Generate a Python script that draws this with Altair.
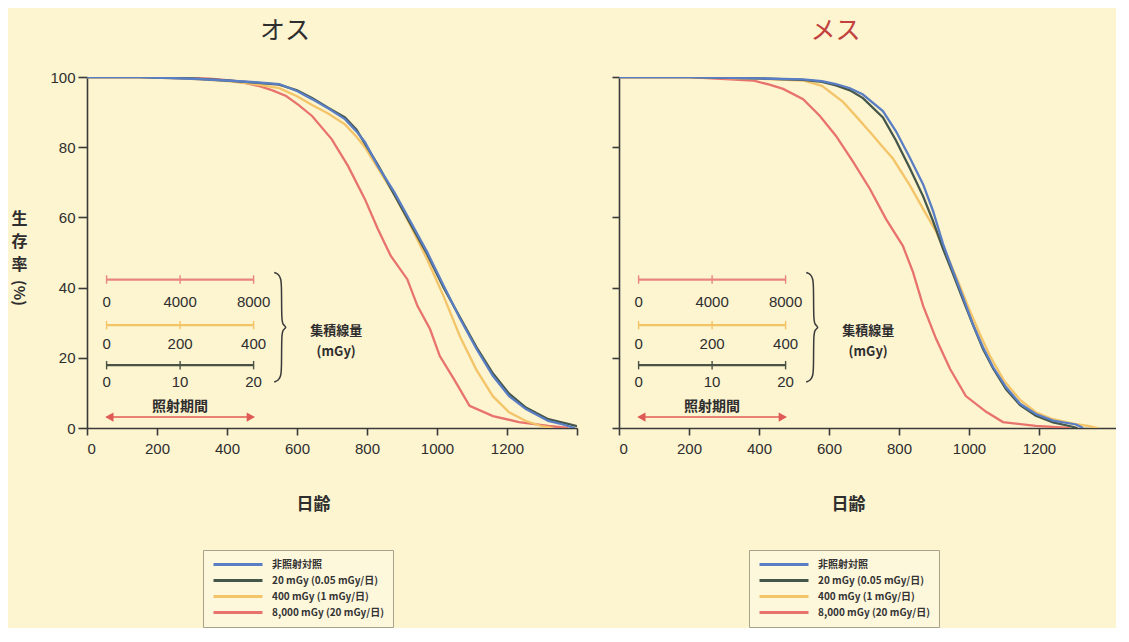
import altair as alt
import pandas as pd

# ---------------- data ----------------
GROUPS = ["非照射対照", "20 mGy (0.05 mGy/日)", "400 mGy (1 mGy/日)", "8,000 mGy (20 mGy/日)"]
COLORS = ["#5a7ec3", "#45574a", "#f3c468", "#e8736d"]

# Male (オス)
m_ctrl_day = [0, 150, 300, 400, 480, 549, 600, 643, 690, 737, 770, 794, 831, 878, 925, 972, 1019, 1066, 1113, 1160, 1206, 1254, 1318, 1360, 1394]
m_ctrl_sv = [100, 100, 99.5, 99, 98.5, 98, 96, 93.7, 91, 88, 84.5, 81.5, 74.6, 67.2, 58.7, 50.1, 40.5, 31.1, 22.5, 14.8, 9.1, 5.4, 2, 1, 0]
m_20_day = [0, 150, 300, 400, 480, 549, 600, 643, 690, 737, 770, 794, 831, 878, 925, 972, 1019, 1066, 1113, 1160, 1206, 1254, 1318, 1380, 1400]
m_20_sv = [100, 100, 99.6, 99, 98.4, 97.8, 96.2, 94, 91.2, 88.5, 85, 81, 75, 66.5, 58, 49.5, 40, 31.5, 23, 15.5, 9.8, 5.8, 2.5, 1, 0.5]
m_400_day = [0, 150, 300, 400, 480, 549, 600, 643, 690, 737, 770, 794, 831, 878, 925, 972, 1019, 1066, 1113, 1160, 1206, 1254, 1300, 1330]
m_400_sv = [100, 100, 99.5, 98.8, 98, 96.8, 94.5, 92, 89.5, 86.5, 83, 80, 74, 66.5, 57.5, 48, 37.5, 26, 16.5, 9, 4.5, 2, 0.5, 0]
m_8000_day = [0, 200, 350, 408, 450, 493, 530, 569, 605, 643, 699, 746, 794, 831, 868, 915, 944, 980, 1008, 1048, 1093, 1160, 1234, 1318, 1375]
m_8000_sv = [100, 100, 99.5, 99, 98.3, 97.4, 96.2, 94.6, 92, 88.9, 82.3, 74.6, 65.2, 56.7, 49, 42.4, 34.8, 28.2, 20.5, 14, 6.3, 3.4, 1.7, 0.6, 0]

# Female (メス)
f_ctrl_day = [0, 200, 400, 526, 580, 620, 660, 697, 754, 791, 831, 869, 897, 926, 954, 983, 1011, 1040, 1069, 1106, 1146, 1191, 1240, 1306, 1326]
f_ctrl_sv = [100, 100, 99.6, 99.3, 98.8, 98, 96.8, 95, 90.3, 84.6, 77, 69.4, 61.9, 52.4, 44.8, 37.2, 29.6, 23, 17.3, 11.6, 6.9, 4, 2.1, 1, 0]
f_20_day = [0, 200, 400, 526, 580, 620, 660, 697, 754, 791, 831, 869, 897, 926, 954, 983, 1011, 1040, 1069, 1106, 1146, 1191, 1240, 1290, 1310]
f_20_sv = [100, 100, 99.6, 99.2, 98.6, 97.6, 96.2, 94, 88.5, 82, 74, 66, 59, 51, 44, 36.5, 29.5, 22.5, 17, 11, 6.5, 3.5, 1.6, 0.5, 0]
f_400_day = [0, 200, 400, 526, 580, 640, 680, 717, 750, 783, 831, 874, 906, 940, 970, 1000, 1030, 1060, 1100, 1146, 1191, 1240, 1300, 1340, 1368]
f_400_sv = [100, 100, 99.5, 99, 97.5, 92.9, 88.5, 84.3, 80.5, 76.7, 69.1, 61.5, 56, 48.5, 41.5, 34, 27, 20.5, 13.5, 8, 4.5, 2.5, 1.2, 0.6, 0]
f_8000_day = [0, 200, 383, 430, 469, 526, 574, 620, 669, 717, 763, 811, 840, 869, 906, 946, 991, 1049, 1097, 1191, 1288]
f_8000_sv = [100, 100, 99, 97.8, 96.6, 93.7, 88.9, 83.2, 75.8, 68.1, 59.5, 51.9, 44.4, 34.8, 25.4, 16.8, 9.1, 4.6, 1.7, 0.6, 0]

# inset: irradiation period and cumulative-dose scales
IRR_DAYS = [56, 266, 476]
SCALE_LABELS = [["0", "4000", "8000"], ["0", "200", "400"], ["0", "10", "20"]]
SCALE_COLORS = ["#e9857d", "#f3c466", "#4a5244"]
SCALE_LINE_Y = [42.3, 29.3, 17.9]
SCALE_TEXT_Y = [35.8, 23.9, 13.1]
ARROW_Y = 3.1
PERIOD_TEXT_Y = 6.0
BRACE_DAY = [535, 548, 554, 556, 556, 559, 572, 559, 556, 556, 554, 548, 535]
BRACE_SV = [44.3, 43.8, 42.5, 40.5, 31.0, 29.4, 28.7, 28.0, 26.4, 16.9, 14.9, 13.6, 13.1]
DOSE_TEXT = [("集積線量", 712, 27.6), ("(mGy)", 712, 21.6)]
YTITLE_TAIL = "(%)"

FONT_JP = "Noto Sans CJK JP"
FONT_NUM = "Liberation Sans"
INK = "#2e2e2e"
PX_PER_DAY = 0.35


def series_rows(sex, group, days, svs):
    return [dict(sex=sex, group=group, day=d, surv=s, i=k) for k, (d, s) in enumerate(zip(days, svs))]


rows = []
# drawing order: red, orange, green, blue (blue on top)
rows += series_rows("M", GROUPS[3], m_8000_day, m_8000_sv)
rows += series_rows("M", GROUPS[2], m_400_day, m_400_sv)
rows += series_rows("M", GROUPS[1], m_20_day, m_20_sv)
rows += series_rows("M", GROUPS[0], m_ctrl_day, m_ctrl_sv)
rows += series_rows("F", GROUPS[3], f_8000_day, f_8000_sv)
rows += series_rows("F", GROUPS[2], f_400_day, f_400_sv)
rows += series_rows("F", GROUPS[1], f_20_day, f_20_sv)
rows += series_rows("F", GROUPS[0], f_ctrl_day, f_ctrl_sv)
curves = pd.DataFrame(rows)

scale_lines = pd.DataFrame([
    dict(day=IRR_DAYS[0], day2=IRR_DAYS[2], surv=SCALE_LINE_Y[k], c=SCALE_COLORS[k]) for k in range(3)
])
scale_ticks = pd.DataFrame([
    dict(day=d, surv=SCALE_LINE_Y[k] - 1.2, surv2=SCALE_LINE_Y[k] + 1.2, c=SCALE_COLORS[k])
    for k in range(3) for d in IRR_DAYS
])
scale_text = pd.DataFrame([
    dict(day=IRR_DAYS[j], surv=SCALE_TEXT_Y[k], label=SCALE_LABELS[k][j])
    for k in range(3) for j in range(3)
])
brace = pd.DataFrame(dict(day=BRACE_DAY, surv=BRACE_SV, i=list(range(len(BRACE_DAY)))))
dose_text = pd.DataFrame([dict(label=t, day=d, surv=s) for t, d, s in DOSE_TEXT])
arrow_line = pd.DataFrame([dict(day=IRR_DAYS[0], day2=IRR_DAYS[2], surv=ARROW_Y)])
arrow_heads = pd.DataFrame([
    dict(day=IRR_DAYS[0] + 8, surv=ARROW_Y, shape="triangle-left"),
    dict(day=IRR_DAYS[2] - 8, surv=ARROW_Y, shape="triangle-right"),
])
period_text = pd.DataFrame([dict(day=IRR_DAYS[1], surv=PERIOD_TEXT_Y, label="照射期間")])
one_row = pd.DataFrame([dict(k=0)])


def panel(sex, dmax, title, title_color, title_dx, title_offset, show_y_labels, legend_x, xtitle_x, xticks):
    xs = alt.Scale(domain=[0, dmax], nice=False, zero=True)
    ys = alt.Scale(domain=[0, 100], nice=False)
    x_axis = alt.Axis(
        values=xticks, format="d", labelExpr="datum.value > 1300 ? '' : datum.label",
        title="日齢", titleFont=FONT_JP, titleFontSize=17, titleFontWeight="bold", titleColor=INK,
        titleX=xtitle_x, titlePadding=40, labelFont=FONT_NUM, labelFontSize=15, labelColor=INK,
        labelPadding=6, tickSize=7, tickWidth=1.6, tickColor="#3a3a3a", domainColor="#3a3a3a",
        domainWidth=1.6, grid=False,
    )
    if show_y_labels:
        y_axis = alt.Axis(
            values=[0, 20, 40, 60, 80, 100], title=["生", "存", "率"],
            titleAngle=0, titleX=-68, titleY=133, titleAlign="center", titleBaseline="top",
            titleFont=FONT_JP, titleFontSize=16, titleFontWeight="bold", titleColor=INK,
            titleLineHeight=23, labelFont=FONT_NUM, labelFontSize=15, labelColor=INK,
            labelPadding=3, tickSize=9, tickWidth=1.6, tickColor="#3a3a3a",
            domainColor="#3a3a3a", domainWidth=1.6, grid=False,
        )
    else:
        y_axis = alt.Axis(
            values=[0, 20, 40, 60, 80, 100], title=None, labels=False, tickSize=7, tickWidth=1.6,
            tickColor="#3a3a3a", domainColor="#3a3a3a", domainWidth=1.6, grid=False,
        )

    data = curves[curves.sex == sex]
    lines = alt.Chart(data).mark_line(strokeWidth=2.3, clip=True).encode(
        x=alt.X("day:Q", scale=xs, axis=x_axis),
        y=alt.Y("surv:Q", scale=ys, axis=y_axis),
        color=alt.Color(
            "group:N",
            scale=alt.Scale(domain=GROUPS, range=COLORS),
            legend=alt.Legend(
                orient="none", legendX=legend_x, legendY=473, title=None,
                symbolType="stroke", symbolSize=2400, symbolStrokeWidth=3, clipHeight=11,
                labelFont=FONT_JP, labelFontSize=10, labelFontWeight="bold", labelColor="#333333",
                labelOffset=8, rowPadding=5, padding=9, fillColor="#fdf7dc",
                strokeColor="#a8a28a", cornerRadius=0,
            ),
        ),
        detail="group:N",
        order="i:Q",
    )

    X = lambda f="day:Q": alt.X(f, scale=xs)
    Y = lambda f="surv:Q": alt.Y(f, scale=ys)

    s_lines = alt.Chart(scale_lines).mark_rule(strokeWidth=2.2).encode(
        x=X(), x2="day2:Q", y=Y(), color=alt.Color("c:N", scale=None, legend=None))
    s_ticks = alt.Chart(scale_ticks).mark_rule(strokeWidth=1.4).encode(
        x=X(), y=Y(), y2="surv2:Q", color=alt.Color("c:N", scale=None, legend=None))
    s_text = alt.Chart(scale_text).mark_text(font=FONT_NUM, fontSize=15, color=INK).encode(
        x=X(), y=Y(), text="label:N")
    br = alt.Chart(brace).mark_line(strokeWidth=1.5, color="#3a3a3a", interpolate="basis").encode(
        x=X(), y=Y(), order="i:Q")
    d_text = alt.Chart(dose_text).mark_text(font=FONT_JP, fontSize=13, fontWeight="bold", color=INK).encode(
        x=X(), y=Y(), text="label:N")
    a_line = alt.Chart(arrow_line).mark_rule(strokeWidth=1.5, color="#e05a55").encode(
        x=X(), x2="day2:Q", y=Y())
    a_heads = alt.Chart(arrow_heads).mark_point(filled=True, size=90, color="#e05a55", opacity=1).encode(
        x=X(), y=Y(), shape=alt.Shape("shape:N", scale=None, legend=None))
    p_text = alt.Chart(period_text).mark_text(font=FONT_JP, fontSize=14, fontWeight="bold", color=INK).encode(
        x=X(), y=Y(), text="label:N")

    layers = [lines, s_lines, s_ticks, s_text, br, d_text, a_line, a_heads, p_text]
    if show_y_labels:
        # "(%)" turned to run downwards, continuing the stacked y-axis title
        layers.append(
            alt.Chart(one_row).mark_text(text=YTITLE_TAIL, font=FONT_JP, fontSize=15, fontWeight="bold",
                                         color=INK, angle=90, baseline="middle", align="center").encode(
                x=alt.value(-68), y=alt.value(216))
        )

    return alt.layer(*layers).properties(
        width=round(dmax * PX_PER_DAY), height=351,
        title=alt.TitleParams(title, font=FONT_JP, fontSize=25, fontWeight="normal", color=title_color,
                              dx=title_dx, offset=title_offset, anchor="middle"),
    )


left = panel("M", 1400, "オス", "#2e2e2e", -47, 26, True, 116, 226,
             [0, 200, 400, 600, 800, 1000, 1200, 1400])
right = panel("F", 1420, "メス", "#c2403d", -32, 32, False, 130, 229,
              [0, 200, 400, 600, 800, 1000, 1200])

chart = alt.hconcat(left, right, spacing=33).resolve_scale(color="independent").configure(
    background="#fdf4d0",
    padding={"left": 2, "top": 11, "right": 0, "bottom": 0},
).configure_view(stroke=None)

chart.save("out.html", embed_options={"renderer": "svg", "actions": False})
